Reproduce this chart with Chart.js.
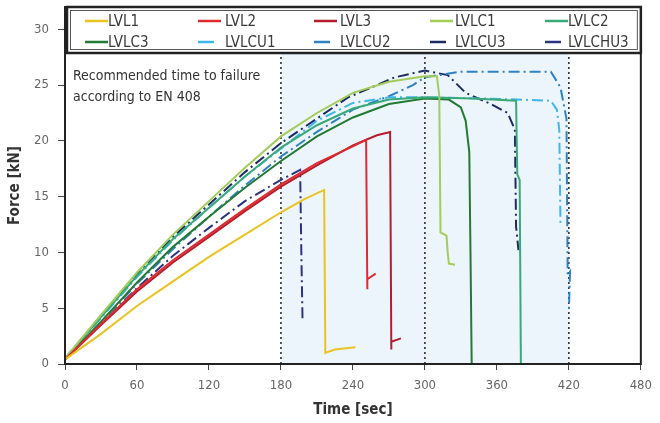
<!DOCTYPE html>
<html>
<head>
<meta charset="utf-8">
<script src="https://cdn.jsdelivr.net/npm/chart.js@4.4.1/dist/chart.umd.min.js"></script>
<style>
  html, body { margin: 0; padding: 0; background: #fff; }
  #wrap { width: 660px; height: 423px; }
</style>
</head>
<body>
<div id="wrap"><canvas id="chart1"></canvas></div>
<script>
// tick labels
const TIME_TICKS = [0, 60, 120, 180, 240, 300, 360, 420, 480];
const FORCE_TICKS = [0, 5, 10, 15, 20, 25, 30];

// recommended time to failure window (EN 408)
const EN408_TIMES = [180, 300, 420];

const SERIES = ["LVL1", "LVL2", "LVL3", "LVLC1", "LVLC2", "LVLC3", "LVLCU1", "LVLCU2", "LVLCU3", "LVLCHU3"];

// [time sec, force kN]
const LVL1 = [[0, 0.4], [30, 2.7], [60, 5.2], [90, 7.4], [120, 9.6], [150, 11.6], [180, 13.6], [200, 14.8], [216, 15.6],
  [217, 1.0], [225, 1.3], [242, 1.5]];
const LVL2 = [[0, 0.4], [30, 3.6], [60, 6.7], [90, 9.3], [120, 11.6], [150, 13.9], [180, 16.1], [210, 18.0], [240, 19.5], [251, 20.1],
  [252, 6.7], [252, 7.6], [259, 8.1]];
const LVL3 = [[0, 0.4], [30, 3.5], [60, 6.5], [90, 9.1], [120, 11.4], [150, 13.7], [180, 15.9], [210, 17.8], [240, 19.6], [260, 20.5], [271, 20.8],
  [272, 1.3], [272, 2.0], [280, 2.3]];
const LVLC1 = [[0, 0.5], [30, 4.4], [60, 8.2], [90, 11.6], [120, 14.6], [150, 17.6], [180, 20.4], [210, 22.5], [240, 24.3], [270, 25.3], [300, 25.8], [310, 25.8],
  [312, 24.0], [313, 11.8], [318, 11.5], [319, 10.0], [320, 9.0], [325, 8.9]];
const LVLC2 = [[0, 0.5], [30, 4.2], [60, 7.9], [90, 11.2], [120, 14.0], [150, 16.8], [180, 19.4], [210, 21.4], [240, 22.9], [270, 23.7], [300, 23.9], [340, 23.8], [376, 23.6],
  [377, 17.0], [379, 16.5], [380, 0]];
const LVLC3 = [[0, 0.4], [30, 3.8], [60, 7.3], [90, 10.5], [120, 13.2], [150, 15.8], [180, 18.2], [210, 20.4], [240, 22.1], [270, 23.3], [300, 23.8], [320, 23.7],
  [330, 23.0], [334, 21.8], [337, 19.0], [338, 10.0], [339, 0]];
const LVLCU1 = [[0, 0.5], [30, 4.1], [60, 7.8], [90, 11.1], [120, 14.0], [150, 16.8], [180, 19.3], [210, 21.8], [240, 23.4], [270, 23.9], [300, 23.9], [350, 23.8], [405, 23.6],
  [410, 22.8], [412, 21.0], [413, 12.6]];
const LVLCU2 = [[0, 0.4], [30, 3.7], [60, 7.2], [90, 10.3], [120, 13.2], [150, 16.0], [180, 18.6], [210, 20.8], [240, 22.8], [270, 24.0], [290, 25.0], [300, 25.7], [330, 26.2], [405, 26.2],
  [413, 24.8], [418, 22.0], [419, 8.0], [421, 8.3], [420, 4.6]];
const LVLCU3 = [[0, 0.5], [30, 4.3], [60, 8.0], [90, 11.4], [120, 14.3], [150, 17.2], [180, 19.8], [210, 22.0], [236, 23.9], [260, 25.0], [275, 25.7], [300, 26.3], [319, 25.9],
  [334, 24.3], [355, 23.3], [369, 22.5], [373, 21.5], [375, 21.0], [376, 12.3], [378, 10.2]];
const LVLCHU3 = [[0, 0.4], [30, 3.6], [60, 6.8], [90, 9.7], [120, 12.2], [150, 14.6], [180, 16.5], [196, 17.4],
  [197, 10.0], [198, 3.9]];

const SERIES_DATA = [LVL1, LVL2, LVL3, LVLC1, LVLC2, LVLC3, LVLCU1, LVLCU2, LVLCU3, LVLCHU3];

const COLORS = ["#e9c31f", "#dd2b2f", "#b51d2d", "#a3cc59", "#3aa97a", "#237a33", "#3fb7e8", "#2e82c4", "#1d2b63", "#2a3582"];
const DASHED = [false, false, false, false, false, false, true, true, true, true];

const FONT = "'DejaVu Sans Condensed', 'DejaVu Sans', sans-serif";

const datasets = SERIES.map((name, i) => ({
  label: name,
  data: SERIES_DATA[i].map(([x, y]) => ({ x, y })),
  borderColor: COLORS[i],
  backgroundColor: COLORS[i],
  borderWidth: 2,
  borderDash: DASHED[i] ? [11, 4, 2, 4] : [],
  pointRadius: 0,
  showLine: true,
  fill: false,
  order: 1,
}));

// dotted vertical markers
EN408_TIMES.forEach((t) => {
  datasets.push({
    label: "",
    data: [{ x: t, y: 0 }, { x: t, y: 32 }],
    borderColor: "#222",
    borderWidth: 1.5,
    borderDash: [2, 3],
    pointRadius: 0,
    showLine: true,
    fill: false,
    order: 5,
  });
});

// shaded window
datasets.push({
  label: "",
  data: [{ x: EN408_TIMES[0], y: 32 }, { x: EN408_TIMES[2], y: 32 }],
  borderWidth: 0,
  borderColor: "rgba(0,0,0,0)",
  backgroundColor: "rgba(218,236,249,0.5)",
  pointRadius: 0,
  showLine: true,
  fill: "origin",
  order: 10,
});

const frame = {
  id: "frame",
  afterDatasetsDraw(chart) {
    const { ctx, chartArea: a } = chart;
    ctx.save();
    ctx.strokeStyle = "#222";
    ctx.lineWidth = 2;
    ctx.strokeRect(a.left, a.top, a.right - a.left, a.bottom - a.top);
    ctx.restore();
  },
};

const note = {
  id: "note",
  afterDatasetsDraw(chart) {
    const { ctx, chartArea: a } = chart;
    ctx.save();
    ctx.font = "14px " + FONT;
    ctx.fillStyle = "#333";
    ctx.textBaseline = "middle";
    ctx.fillText("Recommended time to failure", a.left + 8, 76);
    ctx.fillText("according to EN 408", a.left + 8, 97);
    ctx.restore();
  },
};

// legend box sitting inside the plot, 2 rows x 5 columns
const boxLegend = {
  id: "boxLegend",
  afterDatasetsDraw(chart) {
    const { ctx, chartArea: a } = chart;
    const left = a.left + 2, top = a.top, right = a.right, bottom = a.top + 46;
    ctx.save();
    ctx.fillStyle = "#fff";
    ctx.fillRect(left, top, right - left, bottom - top);
    ctx.strokeStyle = "#222";
    ctx.lineWidth = 2.5;
    ctx.strokeRect(left, top, right - left, bottom - top);
    ctx.lineWidth = 1;
    ctx.strokeStyle = "#555";
    ctx.strokeRect(left + 3.5, top + 3.5, right - left - 7, bottom - top - 7);

    const lineX = [20, 133, 249, 365, 480];
    const textX = [43, 160, 275, 390, 503];
    ctx.font = "15px " + FONT;
    ctx.fillStyle = "#3a3a3a";
    ctx.textBaseline = "middle";
    SERIES.forEach((name, i) => {
      const row = Math.floor(i / 5), col = i % 5;
      const y = top + 14 + row * 21;
      const x0 = a.left + lineX[col];
      const len = row === 0 || col === 0 ? 23 : 16;
      ctx.strokeStyle = COLORS[i];
      ctx.lineWidth = 2.5;
      ctx.beginPath();
      ctx.moveTo(x0, y);
      ctx.lineTo(x0 + len, y);
      ctx.stroke();
      ctx.fillText(name, a.left + textX[col], y + 1);
    });
    ctx.restore();
  },
};

new Chart(document.querySelector("#chart1"), {
  type: "scatter",
  data: { datasets },
  options: {
    responsive: true,
    maintainAspectRatio: false,
    animation: false,
    layout: { padding: { left: 0, right: 16, top: 7, bottom: 0 } },
    plugins: {
      legend: { display: false },
      tooltip: { enabled: false },
    },
    scales: {
      x: {
        type: "linear",
        min: 0,
        max: 480,
        afterBuildTicks: (s) => { s.ticks = TIME_TICKS.map((v) => ({ value: v })); },
        afterFit: (s) => { s.height = 59; },
        border: { display: false },
        grid: { drawOnChartArea: false, drawTicks: true, tickLength: 6, color: "#444" },
        ticks: { color: "#666", padding: 8, font: { family: FONT, size: 13 }, maxRotation: 0 },
        title: { display: true, text: "Time [sec]", color: "#333", padding: { top: 4 }, font: { family: FONT, size: 15, weight: "bold" } },
      },
      y: {
        min: 0,
        max: 32,
        afterBuildTicks: (s) => { s.ticks = FORCE_TICKS.map((v) => ({ value: v })); },
        afterFit: (s) => { s.width = 65; s.paddingTop = 0; s.paddingBottom = 0; },
        border: { display: false },
        grid: { drawOnChartArea: false, drawTicks: true, tickLength: 7, color: "#444" },
        ticks: { color: "#666", padding: 9, font: { family: FONT, size: 13 } },
        title: { display: true, text: "Force [kN]", color: "#333", padding: { top: 6, bottom: 0 }, font: { family: FONT, size: 15, weight: "bold" } },
      },
    },
  },
  plugins: [frame, note, boxLegend],
});
</script>
</body>
</html>
